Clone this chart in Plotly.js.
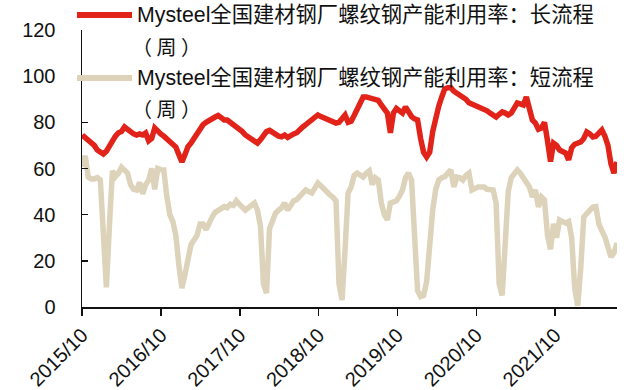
<!DOCTYPE html>
<html>
<head>
<meta charset="utf-8">
<script src="https://cdn.plot.ly/plotly-3.0.1.min.js"></script>
<style>
  html, body { margin: 0; padding: 0; background: #ffffff; }
  #chart { width: 624px; height: 390px; }
</style>
</head>
<body>
<div id="chart"></div>
<script>
// Mysteel weekly rebar capacity utilisation (%), sampled every two weeks
const weeks = [
  '2015-10-02','2015-10-16','2015-10-30','2015-11-13','2015-11-27','2015-12-11','2015-12-25',
  '2016-01-08','2016-01-22','2016-02-05','2016-02-19','2016-03-04','2016-03-18','2016-04-01','2016-04-15','2016-04-29','2016-05-13','2016-05-27','2016-06-10','2016-06-24','2016-07-08','2016-07-22','2016-08-05','2016-08-19','2016-09-02','2016-09-16','2016-09-30','2016-10-14','2016-10-28','2016-11-11','2016-11-25','2016-12-09','2016-12-23',
  '2017-01-06','2017-01-20','2017-02-03','2017-02-17','2017-03-03','2017-03-17','2017-03-31','2017-04-14','2017-04-28','2017-05-12','2017-05-26','2017-06-09','2017-06-23','2017-07-07','2017-07-21','2017-08-04','2017-08-18','2017-09-01','2017-09-15','2017-09-29','2017-10-13','2017-10-27','2017-11-10','2017-11-24','2017-12-08','2017-12-22',
  '2018-01-05','2018-01-19','2018-02-02','2018-02-16','2018-03-02','2018-03-16','2018-03-30','2018-04-13','2018-04-27','2018-05-11','2018-05-25','2018-06-08','2018-06-22','2018-07-06','2018-07-20','2018-08-03','2018-08-17','2018-08-31','2018-09-14','2018-09-28','2018-10-12','2018-10-26','2018-11-09','2018-11-23','2018-12-07','2018-12-21',
  '2019-01-04','2019-01-18','2019-02-01','2019-02-15','2019-03-01','2019-03-15','2019-03-29','2019-04-12','2019-04-26','2019-05-10','2019-05-24','2019-06-07','2019-06-21','2019-07-05','2019-07-19','2019-08-02','2019-08-16','2019-08-30','2019-09-13','2019-09-27','2019-10-11','2019-10-25','2019-11-08','2019-11-22','2019-12-06','2019-12-20',
  '2020-01-03','2020-01-17','2020-01-31','2020-02-14','2020-02-28','2020-03-13','2020-03-27','2020-04-10','2020-04-24','2020-05-08','2020-05-22','2020-06-05','2020-06-19','2020-07-03','2020-07-17','2020-07-31','2020-08-14','2020-08-28','2020-09-11','2020-09-25','2020-10-09','2020-10-23','2020-11-06','2020-11-20','2020-12-04','2020-12-18',
  '2021-01-01','2021-01-15','2021-01-29','2021-02-12','2021-02-26','2021-03-12','2021-03-26','2021-04-09','2021-04-23','2021-05-07','2021-05-21','2021-06-04','2021-06-18','2021-07-02','2021-07-16','2021-07-30','2021-08-13','2021-08-27','2021-09-10','2021-09-24','2021-10-08','2021-10-22','2021-11-05','2021-11-19','2021-12-03','2021-12-17','2021-12-31',
  '2022-01-14','2022-01-28','2022-02-11','2022-02-25','2022-03-11','2022-03-25','2022-04-08','2022-04-22','2022-05-06','2022-05-20','2022-06-03','2022-06-17','2022-07-01','2022-07-15'
];

// Long-process (blast furnace) mills
const longProcess = [
  74.5,73.5,72,71,70,68,67,66.3,67.5,70,
  72,74,75.5,76,78,77,75.5,75,74.5,75,
  74.5,75.4,72,73,77.6,76,75,74,73,71.5,
  70.5,69.3,66,62.8,66,69.5,71,73,76,77,
  79,80,81,82,82.3,83,82,81,81,80,
  79.5,78,77,76,74.5,73.5,73,72,71,72.5,
  74,76,76.5,75.5,74.5,74,73.7,74.5,73.5,74.5,
  75,75.5,77,78,79,80,81,82,83.2,82.5,
  82,81.5,81,80.5,79.7,80,82,83.2,80,80.5,
  83,85.4,88,91,91,90.5,90.5,90,89.5,87.5,
  86,84,75.4,84,86,85,84,86.7,84,82.5,
  81.5,81,73,67,65,67,76,83,87,91,
  94.5,95,95,93.5,92.7,92,91,90,88.5,88,
  87,86.5,86,85.4,85,84,83,82.3,83.5,84.5,
  84,83.2,84,86,88.4,88,87.5,91,86,81,
  79.7,77,77.5,80,72,63,71,70,68,67.5,
  66.7,63.7,69,70.5,71,71.5,73,75.8,75,73.7,
  74,75,76.7,74,70,62,58,62.8
];

// Short-process (electric arc furnace) mills
const shortProcess = [
  60.7,65.5,56.3,55.5,55.5,56,55,25,8.5,35,
  59,56.5,58,60.5,59,58,53,51,50.7,54,
  49,53,55,60,51,60,59.5,59.4,48,40,
  37,31,18,8.2,14,22,27,29,31,36,
  36,33.5,37,39,41,42,42.5,43.5,43,44.5,
  44,46,44.5,43.5,42,43,44,45,42,35,
  10,6,34,38,40.7,42,43,45,42,44,
  46,46.5,48,49.5,50.7,50,49.4,51.5,53.7,52.5,
  51,50,48.5,47.5,46,10,3,25,49.4,52,
  57,58,57,56.3,58,59,53,56,55,45,
  40,37.7,45,45.5,46,48,50.7,56,58,55,
  28,7,4.5,5,11,28,42,51,55,56,
  56.5,58,59.4,52,56.3,56,55,57,58,50.7,
  51.5,52,52,52,51,50.7,50.7,45,10,5,
  30,50,56,58,59.4,58,56.3,54.5,52,47.7,
  50.7,43.3,47.7,46.4,31,25,36,30,37.7,37,
  36.4,37,30,8,0.5,17,39,40.5,42,43.3,
  43.5,36,33,30.3,26,21.7,23.4,27.7
];

const seriesNames = [
  'Mysteel全国建材钢厂螺纹钢产能利用率：长流程',
  'Mysteel全国建材钢厂螺纹钢产能利用率：短流程'
];
const seriesSuffix = '（ 周 ）';
const seriesColors = ['#e2231a', '#ddd3bb'];

const yTicks = [0, 20, 40, 60, 80, 100, 120];

const FONT = '"Liberation Sans", Arial, "Noto Sans CJK SC", sans-serif';
const CJK_FONT = '"Noto Sans CJK SC", sans-serif';
const INK = '#111111';

const traces = [
  { x: weeks, y: longProcess, name: seriesNames[0] },
  { x: weeks, y: shortProcess, name: seriesNames[1] }
].map((t, k) => Object.assign(t, {
  type: 'scatter',
  mode: 'lines',
  line: { color: seriesColors[k], width: 5.5 },
  showlegend: false,
  hoverinfo: 'skip'
}));

// Hand-placed legend (long sample strokes, wrapped labels) in paper units
const legendRows = [
  { y: 1.054, suffixY: 0.939 },
  { y: 0.827, suffixY: 0.715 }
];
const shapes = [];
const annotations = [];
legendRows.forEach((row, k) => {
  shapes.push({
    type: 'line', xref: 'paper', yref: 'paper', layer: 'above',
    x0: -0.0094, x1: 0.0935, y0: row.y, y1: row.y,
    line: { color: seriesColors[k], width: 6 }
  });
  annotations.push({
    xref: 'paper', yref: 'paper', x: 0.099, y: row.y,
    xanchor: 'left', yanchor: 'middle', showarrow: false,
    text: seriesNames[k], font: { family: FONT, size: 21.3, color: INK }
  });
  annotations.push({
    xref: 'paper', yref: 'paper', x: 0.09, y: row.suffixY,
    xanchor: 'left', yanchor: 'middle', showarrow: false,
    text: seriesSuffix, font: { family: CJK_FONT, size: 20, color: INK }
  });
});

const layout = {
  width: 624,
  height: 390,
  margin: { l: 82, r: 7, t: 30, b: 83 },
  paper_bgcolor: '#ffffff',
  plot_bgcolor: '#ffffff',
  font: { family: FONT, size: 20, color: INK },
  xaxis: {
    type: 'date',
    range: ['2015-10-01', '2022-07-15'],
    tick0: '2015-10-01',
    dtick: 'M12',
    tickformat: '%Y/%m',
    tickangle: -45,
    ticks: 'outside',
    ticklen: 7,
    tickwidth: 1.5,
    tickcolor: INK,
    showline: true,
    linecolor: INK,
    linewidth: 1.5,
    showgrid: false,
    zeroline: false,
    tickfont: { family: FONT, size: 20, color: INK }
  },
  yaxis: {
    range: [0, 120],
    tickvals: yTicks,
    ticks: 'inside',
    ticklen: 6,
    tickwidth: 1.5,
    tickcolor: INK,
    showline: true,
    linecolor: INK,
    linewidth: 1.5,
    showgrid: false,
    zeroline: false,
    ticklabelstandoff: 21,
    tickfont: { family: FONT, size: 20, color: INK }
  },
  shapes: shapes,
  annotations: annotations
};

Plotly.newPlot('chart', traces, layout, { displayModeBar: false, staticPlot: true });
</script>
</body>
</html>
